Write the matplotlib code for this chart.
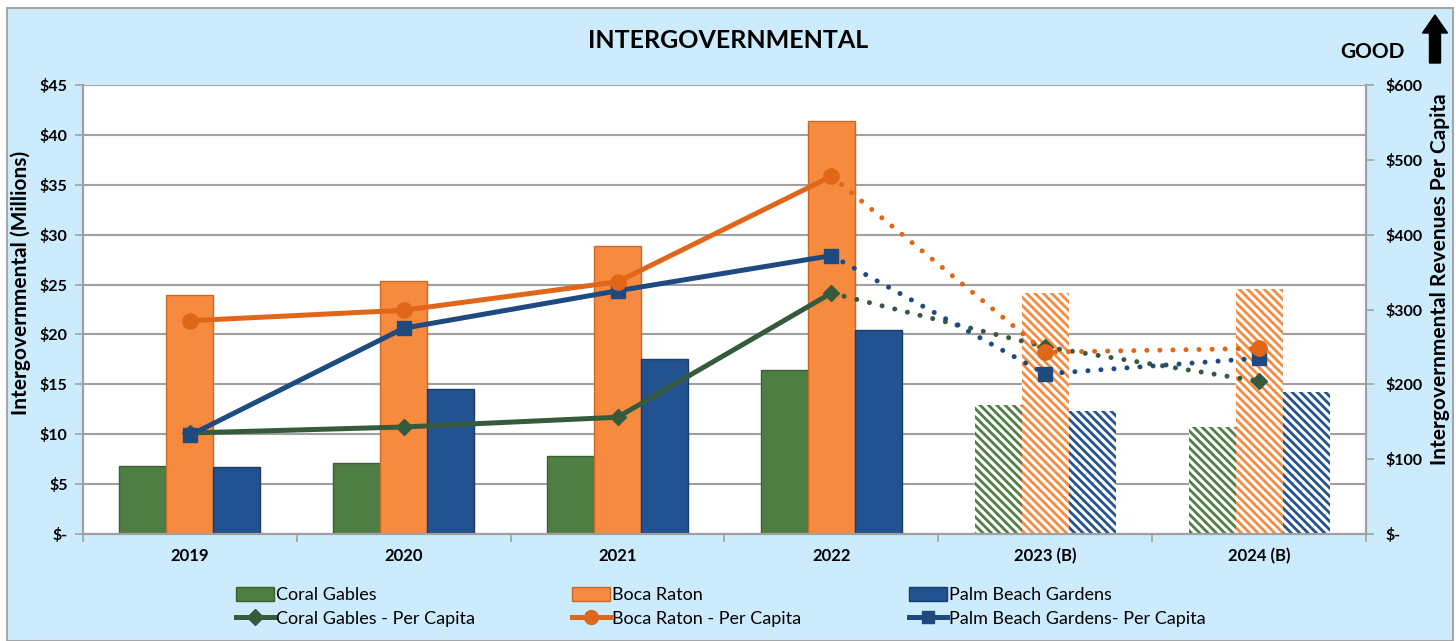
import numpy as np
import matplotlib
matplotlib.use("Agg")
import matplotlib.pyplot as plt
from matplotlib.patches import Rectangle, Polygon, Patch
from matplotlib.lines import Line2D

plt.rcParams['font.family'] = ['Lato', 'DejaVu Sans']
plt.rcParams['hatch.linewidth'] = 2.0

years = ["2019", "2020", "2021", "2022", "2023 (B)", "2024 (B)"]
coral_gables = [6.8, 7.1, 7.8, 16.4, 12.9, 10.7]
boca_raton = [24.0, 25.4, 28.9, 41.4, 24.2, 24.6]
palm_beach_gardens = [6.7, 14.5, 17.5, 20.4, 12.3, 14.2]
cg_per_capita = [135, 143, 156, 322, 250, 204]
br_per_capita = [285, 299, 337, 478, 243, 248]
pbg_per_capita = [132, 275, 325, 372, 214, 235]
budget_flags = [False, False, False, False, True, True]

left_ticks = [0, 5, 10, 15, 20, 25, 30, 35, 40, 45]
right_ticks = [0, 100, 200, 300, 400, 500, 600]

W, H = 1456, 641
fig = plt.figure(figsize=(W / 100, H / 100), dpi=100, facecolor='white')

bg = '#CCEBFC'
fig.patches.append(Rectangle((6.5 / W, 0), (1452.5 - 6.5) / W, (H - 8) / H,
                             transform=fig.transFigure, facecolor=bg,
                             edgecolor='#A6A6A6', linewidth=1.5, zorder=-10))

ax = fig.add_axes([83 / W, 1 - 534 / H, (1366 - 83) / W, (534 - 85) / H])
ax.set_facecolor('white')
ax2 = ax.twinx()

x = np.arange(len(years))
bw = 0.22
bar_specs = [
    (coral_gables, -bw, '#4F7E45', '#3B5F34'),
    (boca_raton, 0, '#F68B40', '#C96A28'),
    (palm_beach_gardens, bw, '#22528F', '#183C6B'),
]
for vals, off, fc, ec in bar_specs:
    for xi, v, b in zip(x, vals, budget_flags):
        if b:
            ax.bar(xi + off, v, bw, facecolor='white', edgecolor=fc,
                   hatch='\\\\\\\\', linewidth=0.0, zorder=2)
        else:
            ax.bar(xi + off, v, bw, facecolor=fc, edgecolor=ec,
                   linewidth=1.0, zorder=2)

line_specs = [
    (cg_per_capita, '#365B3C', 'D', 8),
    (pbg_per_capita, '#1F4A80', 's', 10),
    (br_per_capita, '#E0661A', 'o', 11),
]
dotted = (0, (0.01, 2.6))
for vals, col, mk, ms in line_specs:
    ax2.plot(x[:4], vals[:4], color=col, lw=3.6, solid_capstyle='round', zorder=3)
    ax2.plot(x[3:], vals[3:], color=col, lw=3.6, linestyle=dotted,
             dash_capstyle='round', zorder=3)
    ax2.plot(x, vals, linestyle='none', marker=mk, markersize=ms,
             markerfacecolor=col, markeredgecolor=col, zorder=4)

ax.set_xlim(-0.5, len(years) - 0.5)
ax.set_ylim(0, 45)
ax2.set_ylim(0, 600)

ax.set_yticks(left_ticks)
ax.set_yticklabels(['$-' if t == 0 else f'${t}' for t in left_ticks],
                   fontsize=11.5, fontweight='bold')
ax2.set_yticks(right_ticks)
ax2.set_yticklabels(['$-' if t == 0 else f'${t}' for t in right_ticks],
                    fontsize=11.5, fontweight='bold')

ax.set_xticks(x)
ax.set_xticklabels(years, fontsize=12, fontweight='bold')
ax.tick_params(axis='x', length=0, pad=10)
ax.set_xticks(np.arange(len(years) + 1) - 0.5, minor=True)
ax.tick_params(axis='x', which='minor', length=6, color='#A0A0A0', width=1.2)
ax.tick_params(axis='y', length=6, color='#A0A0A0', width=1.2, pad=5)
ax2.tick_params(axis='y', length=6, color='#A0A0A0', width=1.2, pad=8)

ax.yaxis.grid(True, color='#A0A0A0', linewidth=1.5, zorder=0)
ax.set_axisbelow(True)

for a in (ax, ax2):
    a.spines['top'].set_visible(False)
    for s in ('left', 'right', 'bottom'):
        a.spines[s].set_color('#A0A0A0')
        a.spines[s].set_linewidth(1.5)

fig.text(21 / W, 1 - 283 / H, 'Intergovernmental (Millions)', rotation=90,
         ha='center', va='center', fontsize=15, fontweight='bold')
fig.text(1440 / W, 1 - 279 / H, 'Intergovernmental Revenues Per Capita', rotation=90,
         ha='center', va='center', fontsize=15, fontweight='bold')

fig.text(728 / W, 1 - 40 / H, 'INTERGOVERNMENTAL', ha='center', va='center',
         fontsize=18, fontweight='bold')
fig.text(1405 / W, 1 - 52 / H, 'GOOD', ha='right', va='center',
         fontsize=15, fontweight='bold')

ax_x, top, bot = 1435, 15, 63
sw, hw, hl = 5.5, 12.5, 18
pts = [(ax_x - sw, bot), (ax_x + sw, bot), (ax_x + sw, top + hl), (ax_x + hw, top + hl),
       (ax_x, top), (ax_x - hw, top + hl), (ax_x - sw, top + hl)]
fig.patches.append(Polygon([(px / W, 1 - py / H) for px, py in pts], closed=True,
                           transform=fig.transFigure, facecolor='black',
                           edgecolor='black', zorder=5))

legend_cols = [
    (Patch(facecolor='#4F7E45', edgecolor='#3B5F34'), 'Coral Gables',
     Line2D([], [], color='#365B3C', lw=3.6, marker='D', markersize=8), 'Coral Gables - Per Capita', 236),
    (Patch(facecolor='#F68B40', edgecolor='#C96A28'), 'Boca Raton',
     Line2D([], [], color='#E0661A', lw=3.6, marker='o', markersize=10), 'Boca Raton - Per Capita', 572),
    (Patch(facecolor='#22528F', edgecolor='#183C6B'), 'Palm Beach Gardens',
     Line2D([], [], color='#1F4A80', lw=3.6, marker='s', markersize=9), 'Palm Beach Gardens- Per Capita', 909),
]
for h1, l1, h2, l2, xpix in legend_cols:
    fig.legend([h1, h2], [l1, l2], loc='upper left',
               bbox_to_anchor=(xpix / W, 1 - 587 / H), frameon=False,
               fontsize=13, handlelength=2.1, handleheight=0.8,
               handletextpad=0.1, labelspacing=0.4, borderaxespad=0,
               borderpad=0)

fig.savefig('out.png', dpi=100, facecolor='white')
